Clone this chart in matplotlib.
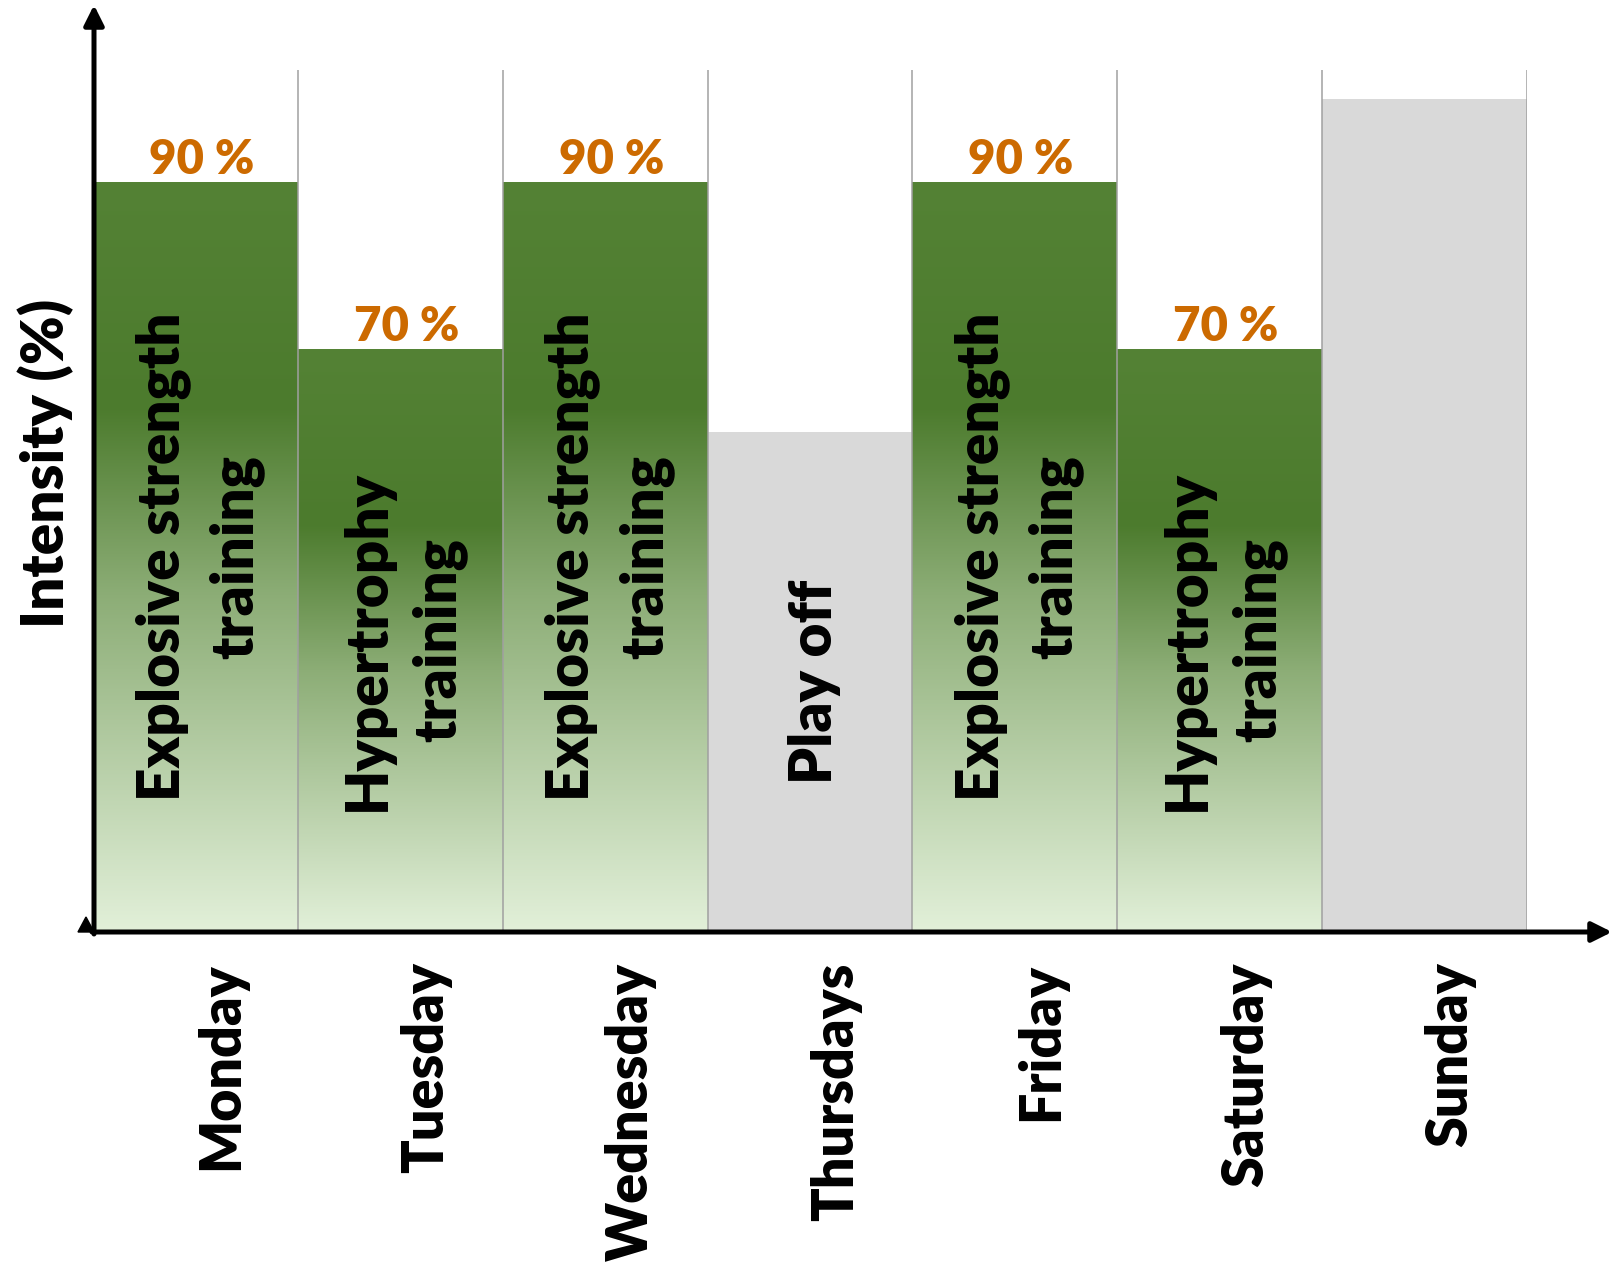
import numpy as np
import matplotlib.pyplot as plt
from matplotlib.patches import Polygon
from matplotlib.transforms import ScaledTranslation
from matplotlib.colors import LinearSegmentedColormap

plt.rcParams['font.family'] = ['Lato', 'DejaVu Sans']
plt.rcParams['font.weight'] = 'bold'

days = ["Monday", "Tuesday", "Wednesday", "Thursdays", "Friday", "Saturday", "Sunday"]
intensity = [90, 70, 90, 60, 90, 70, 100]
sessions = ["Explosive strength\ntraining", "Hypertrophy\ntraining", "Explosive strength\ntraining",
            "Play off", "Explosive strength\ntraining", "Hypertrophy\ntraining", ""]
is_training = [True, True, True, False, True, True, False]

green_grad = LinearSegmentedColormap.from_list(
    "grn", [(0.0, "#548235"), (0.30, "#4C7B2D"), (0.55, "#8CAD76"), (1.0, "#E2F0D9")])
grey = "#D9D9D9"
orange = "#CC6A00"
wt = 'heavy'

W, H = 1616, 1268
fig = plt.figure(figsize=(W / 100, H / 100), dpi=100)
ax = fig.add_axes([93 / W, 1 - 932 / H, (1527 - 93) / W, (932 - 70) / H])

x = np.arange(len(days))
bars = ax.bar(x, intensity, width=1.0,
              color=[(0, 0, 0, 0) if t else grey for t in is_training],
              linewidth=0, zorder=1)

# vertical gradient fill, relative to each training bar
grad = np.linspace(0, 1, 256).reshape(-1, 1)
for b, t in zip(bars, is_training):
    if not t:
        continue
    x0, h = b.get_x(), b.get_height()
    ax.imshow(grad, cmap=green_grad, aspect='auto', origin='upper',
              extent=[x0, x0 + b.get_width(), 0, h], zorder=1)

ymax = 103.5
ax.set_xlim(-0.5, len(days) - 0.5)
ax.set_ylim(0, ymax)

# category separators
for xb in np.arange(-0.5, len(days) + 0.5, 1.0):
    ax.plot([xb, xb], [0, ymax], color="#A0A0A0", lw=1.1, zorder=2)

# session names inside the bars
for xi, v, s in zip(x, intensity, sessions):
    if s:
        ax.text(xi + 0.02, v / 2, s, rotation=90, ha='center', va='center',
                fontsize=42, fontweight=wt, color='black',
                linespacing=1.4, multialignment='center', zorder=3)

# value labels on training days
for xi, v, t in zip(x, intensity, is_training):
    if t:
        ax.text(xi + 0.03, v, f"{v} %", ha='center', va='bottom',
                fontsize=34, fontweight=wt, color=orange, zorder=3)

for sp in ax.spines.values():
    sp.set_visible(False)
ax.set_yticks([])
ax.set_xticks(x)
ax.set_xticklabels(days, rotation=90, va='top', ha='center', fontsize=40, fontweight=wt)
ax.tick_params(axis='x', length=0, pad=22)
offset = ScaledTranslation(26 / 100, 0, fig.dpi_scale_trans)
for lbl in ax.get_xticklabels():
    lbl.set_transform(lbl.get_transform() + offset)

fig.text(46 / W, 1 - 463 / H, "Intensity (%)", rotation=90, ha='center', va='center',
         fontsize=42, fontweight=wt)

# axis arrows
arrow = dict(arrowstyle='-|>,head_length=0.4,head_width=0.2', mutation_scale=30,
             lw=3.6, color='black', shrinkA=0, shrinkB=0)
ax.annotate('', xy=(94, H - 5), xytext=(94, H - 934), xycoords='figure pixels',
            textcoords='figure pixels', arrowprops=arrow)
ax.annotate('', xy=(1612, H - 932), xytext=(92, H - 932), xycoords='figure pixels',
            textcoords='figure pixels', arrowprops=arrow)
fig.add_artist(Polygon([(78 / W, 1 - 932 / H), (94 / W, 1 - 932 / H), (86 / W, 1 - 917 / H)],
                       closed=True, color='black', transform=fig.transFigure))

fig.savefig("out.png", dpi=100)
